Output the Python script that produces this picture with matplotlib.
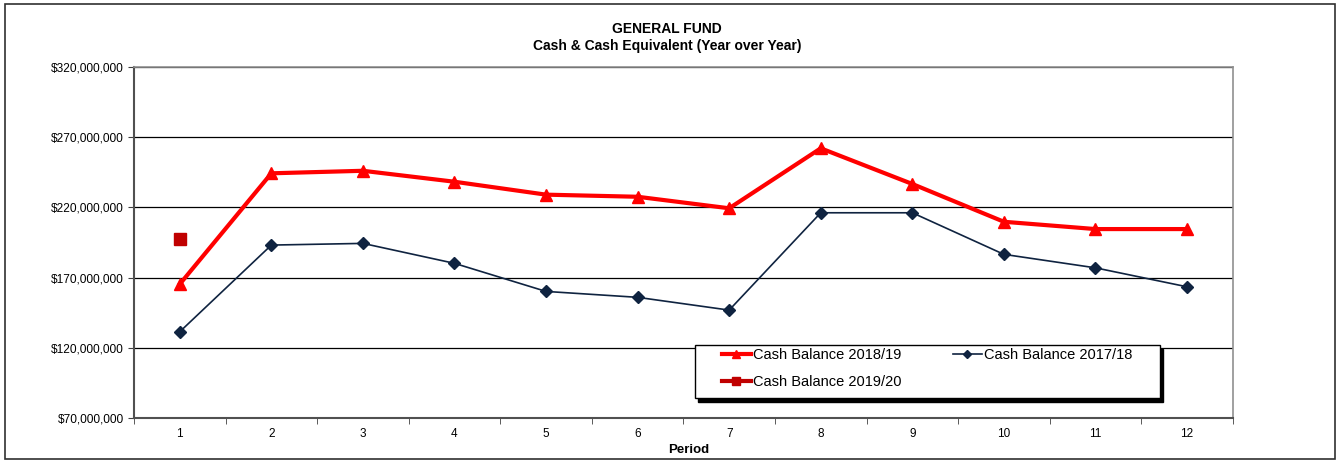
import matplotlib.pyplot as plt
import numpy as np
from matplotlib.patches import Rectangle
from matplotlib.ticker import FuncFormatter
from matplotlib.transforms import ScaledTranslation

plt.rcParams['font.family'] = ['Liberation Sans', 'DejaVu Sans']

periods = [1, 2, 3, 4, 5, 6, 7, 8, 9, 10, 11, 12]
cash_1819 = [165.4, 244.3, 246.1, 238.3, 229.1, 227.6, 219.4, 262.1, 236.7, 209.8, 204.6, 204.6]
cash_1718 = [131.5, 193.2, 194.4, 180.2, 160.2, 156.0, 146.9, 216.2, 216.2, 186.6, 177.0, 163.5]
cash_1920 = [197.3]
y_ticks = [70, 120, 170, 220, 270, 320]

fig = plt.figure(figsize=(13.4, 4.62), dpi=100)
ax = fig.add_axes([0.1, 0.095, 0.82, 0.76])

x = np.array(periods)
l1, = ax.plot(x, np.array(cash_1819) * 1e6, color='#FF0000', lw=3, marker='^', ms=8,
              label='Cash Balance 2018/19', zorder=4)
l2, = ax.plot(x, np.array(cash_1718) * 1e6, color='#0F2340', lw=1.2, marker='D', ms=6,
              label='Cash Balance 2017/18', zorder=3)
l3, = ax.plot(x[:len(cash_1920)], np.array(cash_1920) * 1e6, color='#C00000', lw=3, marker='s', ms=9,
              label='Cash Balance 2019/20', zorder=5)

ax.set_xlim(0.5, 12.5)
ax.set_ylim(70e6, 320e6)
ax.set_yticks([v * 1e6 for v in y_ticks])
ax.yaxis.set_major_formatter(FuncFormatter(lambda v, p: '${:,.0f}'.format(v)))
ax.set_xticks(periods)
ax.set_xticks(np.arange(0.5, 13, 1), minor=True)
ax.tick_params(axis='x', which='major', length=0, labelsize=8.5, pad=7)
ax.tick_params(axis='x', which='minor', length=4, color='#404040', direction='out')
ax.tick_params(axis='y', labelsize=8.6, length=4, color='#404040', direction='out')
ax.grid(axis='y', color='black', lw=0.9)
ax.set_axisbelow(True)

for s in ['left', 'bottom']:
    ax.spines[s].set_color('#505050')
    ax.spines[s].set_linewidth(1.5)
for s in ['top', 'right']:
    ax.spines[s].set_color('#909090')
    ax.spines[s].set_linewidth(1.2)

ax.set_xlabel('Period', fontsize=9.5, fontweight='bold')
ax.xaxis.set_label_coords(0.505, -0.075)

fig.text(0.498, 0.937, 'GENERAL FUND', ha='center', va='center', fontsize=10, fontweight='bold')
fig.text(0.498, 0.9, 'Cash & Cash Equivalent (Year over Year)', ha='center', va='center',
         fontsize=10, fontweight='bold')

# legend box with shadow
lx0, ly0, lw_, lh_ = 0.5105, 0.057, 0.423, 0.151
shadow = Rectangle((lx0, ly0), lw_, lh_, facecolor='black', edgecolor='black', zorder=6,
                   transform=ax.transAxes + ScaledTranslation(3 / 100, -3.5 / 100, fig.dpi_scale_trans))
ax.add_patch(shadow)
ax.add_patch(Rectangle((lx0, ly0), lw_, lh_, facecolor='white', edgecolor='black', lw=1,
                       transform=ax.transAxes, zorder=7))

leg = ax.legend([l1, l3, l2], ['Cash Balance 2018/19', 'Cash Balance 2019/20', 'Cash Balance 2017/18'],
                loc='upper left', bbox_to_anchor=(0.535, 0.199), ncol=2, fontsize=10.5,
                frameon=False, handlelength=2.0, handletextpad=0.15, borderpad=0,
                borderaxespad=0, labelspacing=0.9, columnspacing=3.5, markerscale=0.7)
leg.set_zorder(8)

fig.patches.append(Rectangle((0.004, 0.006), 0.992, 0.985, transform=fig.transFigure,
                             fill=False, edgecolor='#303030', lw=1.2))

fig.savefig('out.png', dpi=100)
